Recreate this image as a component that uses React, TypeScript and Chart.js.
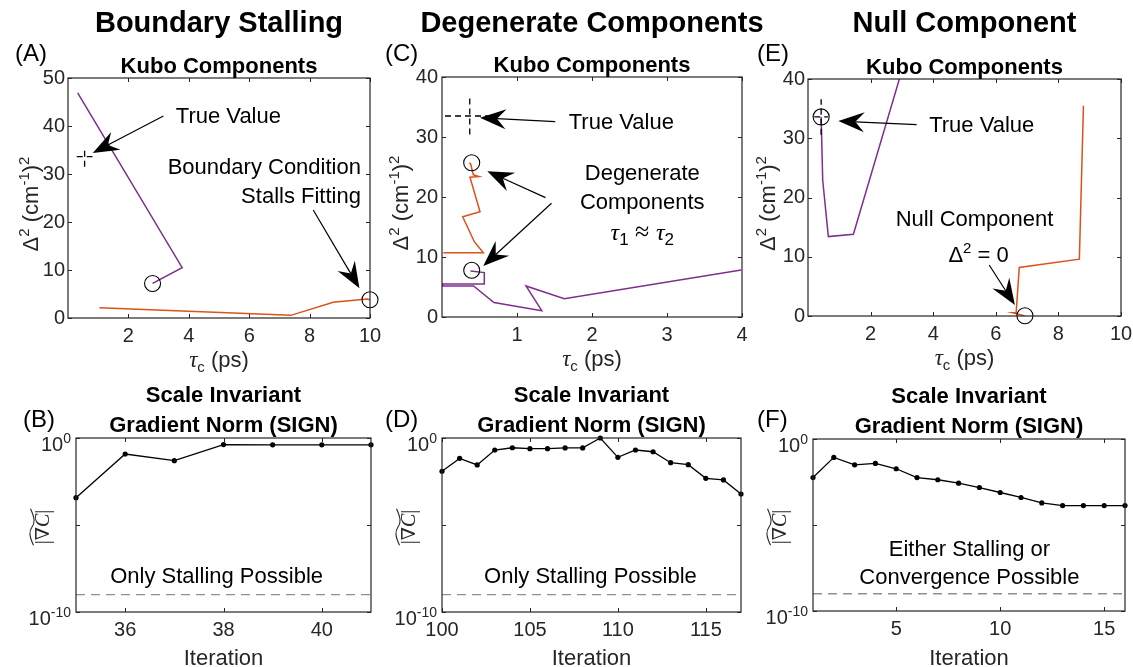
import React, { useEffect, useRef } from 'react';
import { Chart, registerables } from 'chart.js';

Chart.register(...registerables);

const SANS = '"Liberation Sans", Arial, Helvetica, sans-serif';
const SERIF = '"Liberation Serif", "DejaVu Serif", "Times New Roman", serif';
const AXIS = '#262626';
const PURPLE = '#7E2F8E';
const ORANGE = '#D95319';
const THRESH = '#8f8f8f';

// ---------------- Panel A : Boundary Stalling (Kubo components) ----------------
const aPurpleTau = [0.32, 3.78, 2.8];
const aPurpleD2 = [46.9, 10.5, 7.2];
const aOrangeTau = [1.04, 7.38, 8.78, 9.9, 10.0];
const aOrangeD2 = [2.15, 0.55, 3.27, 3.95, 3.8];
const aEndTau = [2.8, 10.0];
const aEndD2 = [7.2, 3.8];
const aTrueTau = [0.55];
const aTrueD2 = [33.6];
const aTrueTauSpan = [0.29, 0.81];
const aTrueD2Span = [31.5, 35.7];
const aXTicks = [2, 4, 6, 8, 10];
const aYTicks = [0, 10, 20, 30, 40, 50];

// ---------------- Panel C : Degenerate Components ----------------
const cPurpleTau = [3.99, 1.63, 1.12, 1.33, 0.693, 0.42, 0.01, 0.01, 0.564, 0.564, 0.38];
const cPurpleD2 = [7.83, 3.05, 5.17, 1.05, 2.4, 5.17, 5.17, 5.5, 5.5, 7.4, 7.65];
const cOrangeTau = [0.018, 0.551, 0.431, 0.276, 0.507, 0.373, 0.493, 0.418, 0.382, 0.364];
const cOrangeD2 = [10.7, 10.7, 12.55, 16.7, 17.55, 23.3, 23.4, 23.7, 25.5, 25.7];
const cEndTau = [0.396, 0.396];
const cEndD2 = [25.7, 7.8];
const cTrueTau = [0.37];
const cTrueD2 = [33.5];
const cTrueTauSpan = [0.04, 0.7];
const cTrueD2Span = [30.4, 36.6];
const cXTicks = [1, 2, 3, 4];
const cYTicks = [0, 10, 20, 30, 40];

// ---------------- Panel E : Null Component ----------------
const ePurpleTau = [3.2, 1.45, 0.65, 0.47, 0.42];
const ePurpleD2 = [45, 13.8, 13.4, 22.9, 33.6];
const eOrangeTau = [8.8, 8.67, 6.75, 6.65, 6.54, 6.93];
const eOrangeD2 = [35.5, 9.6, 8.2, 0.55, 0.55, 0.02];
const eEndTau = [0.42, 6.93];
const eEndD2 = [33.6, 0.05];
const eTrueTau = [0.42];
const eTrueD2 = [33.6];
const eTrueTauSpan = [0.2, 0.64];
const eTrueD2Span = [30.6, 36.6];
const eXTicks = [2, 4, 6, 8, 10];
const eYTicks = [0, 10, 20, 30, 40];

// ---------------- Panels B, D, F : SIGN ----------------
const bIter = [35, 36, 37, 38, 39, 40, 41];
const bSign = [3.7e-4, 0.12, 0.05, 0.417, 0.407, 0.407, 0.407];
const bXTicks = [36, 38, 40];

const dIter = [100, 101, 102, 103, 104, 105, 106, 107, 108, 109, 110, 111, 112, 113, 114, 115, 116, 117];
const dSign = [0.0123, 0.0676, 0.0282, 0.204, 0.275, 0.245, 0.245, 0.269, 0.269, 1.0, 0.0776, 0.204, 0.162, 0.038, 0.0295, 0.00479, 0.00389, 0.000603];
const dXTicks = [100, 105, 110, 115];

const fIter = [1, 2, 3, 4, 5, 6, 7, 8, 9, 10, 11, 12, 13, 14, 15, 16];
const fSign = [0.00575, 0.0851, 0.0316, 0.038, 0.0186, 0.00575, 0.00427, 0.00269, 0.00151, 0.000776, 0.000398, 0.000191, 0.000135, 0.000135, 0.000135, 0.000135];
const fXTicks = [5, 10, 15];

const signYTicks = [1e-10, 1e-5, 1];
const signThreshold = [1e-9];

// ---------------- helpers ----------------
const font = (size: number, weight = 'normal', family = SANS, style = 'normal') =>
  `${style} ${weight} ${size}px ${family}`;

type Run = { t: string; f: string; dy?: number };

function runsWidth(ctx: CanvasRenderingContext2D, runs: Run[]) {
  let w = 0;
  for (const r of runs) {
    ctx.font = r.f;
    w += ctx.measureText(r.t).width;
  }
  return w;
}

function drawRuns(ctx: CanvasRenderingContext2D, runs: Run[], x: number, y: number, align: string) {
  const w = runsWidth(ctx, runs);
  let cx = align === 'center' ? x - w / 2 : align === 'right' ? x - w : x;
  ctx.textAlign = 'left';
  ctx.textBaseline = 'alphabetic';
  for (const r of runs) {
    ctx.font = r.f;
    ctx.fillText(r.t, cx, y + (r.dy || 0));
    cx += ctx.measureText(r.t).width;
  }
  return w;
}

function arrow(ctx: CanvasRenderingContext2D, x1: number, y1: number, x2: number, y2: number) {
  const ang = Math.atan2(y2 - y1, x2 - x1);
  const ux = Math.cos(ang), uy = Math.sin(ang);
  const vx = -uy, vy = ux;
  const len = 26, hw = 10, notch = 17;
  ctx.save();
  ctx.strokeStyle = '#000';
  ctx.fillStyle = '#000';
  ctx.lineWidth = 1.2;
  ctx.beginPath();
  ctx.moveTo(x1, y1);
  ctx.lineTo(x2 - ux * notch, y2 - uy * notch);
  ctx.stroke();
  ctx.beginPath();
  ctx.moveTo(x2, y2);
  ctx.lineTo(x2 - ux * len + vx * hw, y2 - uy * len + vy * hw);
  ctx.lineTo(x2 - ux * notch, y2 - uy * notch);
  ctx.lineTo(x2 - ux * len - vx * hw, y2 - uy * len - vy * hw);
  ctx.closePath();
  ctx.fill();
  ctx.restore();
}

const zip = (xs: number[], ys: number[]) => xs.map((x, i) => ({ x, y: ys[i] }));

const lineDs = (xs: number[], ys: number[], color: string) => ({
  data: zip(xs, ys),
  showLine: true,
  borderColor: color,
  backgroundColor: color,
  borderWidth: 1.5,
  pointRadius: 0,
  tension: 0,
});

const circleDs = (xs: number[], ys: number[]) => ({
  data: zip(xs, ys),
  showLine: false,
  pointStyle: 'circle',
  pointRadius: 8,
  pointBorderWidth: 1.1,
  pointBorderColor: '#000',
  pointBackgroundColor: 'rgba(0,0,0,0)',
  borderColor: '#000',
  backgroundColor: 'rgba(0,0,0,0)',
  clip: false,
});

const crossDs = (tauSpan: number[], d2: number[], tau: number[], d2Span: number[]) => [
  {
    data: zip(tauSpan, [d2[0], d2[0]]),
    showLine: true,
    borderColor: '#000',
    borderWidth: 1.3,
    borderDash: [6, 4],
    pointRadius: 0,
  },
  {
    data: zip([tau[0], tau[0]], d2Span),
    showLine: true,
    borderColor: '#000',
    borderWidth: 1.3,
    borderDash: [6, 4],
    pointRadius: 0,
  },
];

const signDs = (xs: number[], ys: number[]) => ({
  data: zip(xs, ys),
  showLine: true,
  borderColor: '#000',
  backgroundColor: '#000',
  borderWidth: 1.3,
  pointRadius: 2.6,
  pointBorderWidth: 0,
  pointBackgroundColor: '#000',
  tension: 0,
  clip: false,
});

const threshDs = (xMin: number, xMax: number) => ({
  data: zip([xMin, xMax], [signThreshold[0], signThreshold[0]]),
  showLine: true,
  borderColor: THRESH,
  borderWidth: 1.4,
  borderDash: [9, 6],
  pointRadius: 0,
});

type Helper = {
  ctx: CanvasRenderingContext2D;
  a: { left: number; top: number; right: number; bottom: number };
  X: (v: number) => number;
  Y: (v: number) => number;
  px: (v: number) => number;
  py: (v: number) => number;
};

function drawTopCommon(h: Helper, o: { letter: string; letterX: number; col: string; yTitleX: number }) {
  const { ctx, a, px, py } = h;
  const cx = (a.left + a.right) / 2;
  ctx.fillStyle = '#000';
  ctx.textBaseline = 'alphabetic';
  ctx.textAlign = 'center';
  ctx.font = font(29, 'bold');
  ctx.fillText(o.col, cx, py(32));
  ctx.textAlign = 'left';
  ctx.font = font(24);
  ctx.fillText(o.letter, px(o.letterX), py(61));
  ctx.textAlign = 'center';
  ctx.font = font(22, 'bold');
  ctx.fillText('Kubo Components', cx, a.top - 5);

  ctx.fillStyle = AXIS;
  ctx.save();
  ctx.translate(px(o.yTitleX), (a.top + a.bottom) / 2 + 6);
  ctx.rotate(-Math.PI / 2);
  drawRuns(
    ctx,
    [
      { t: 'Δ', f: font(22) },
      { t: '2', f: font(15), dy: -9 },
      { t: ' (cm', f: font(22) },
      { t: '-1', f: font(15), dy: -9 },
      { t: ')', f: font(22) },
      { t: '2', f: font(15), dy: -9 },
    ],
    0,
    0,
    'center'
  );
  ctx.restore();

  drawRuns(
    ctx,
    [
      { t: 'τ', f: font(23, 'normal', SERIF, 'italic') },
      { t: 'c', f: font(15), dy: 5 },
      { t: ' (ps)', f: font(22) },
    ],
    cx,
    a.bottom + 49,
    'center'
  );
}

function drawBottomCommon(h: Helper, o: { letter: string; letterX: number }) {
  const { ctx, a, px, py, Y } = h;
  ctx.fillStyle = '#000';
  ctx.textBaseline = 'alphabetic';
  ctx.textAlign = 'left';
  ctx.font = font(24);
  ctx.fillText(o.letter, px(o.letterX), py(427));
  ctx.textAlign = 'center';
  ctx.font = font(22, 'bold');
  const cx = (a.left + a.right) / 2;
  ctx.fillText('Scale Invariant', cx, a.top - 36);
  ctx.fillText('Gradient Norm (SIGN)', cx, a.top - 6);

  // x title
  ctx.fillStyle = AXIS;
  ctx.font = font(22);
  ctx.fillText('Iteration', cx, py(665));

  // y tick labels with superscripts
  drawRuns(ctx, [{ t: '10', f: font(20) }, { t: '0', f: font(14), dy: -7.5 }], a.left - 5, Y(1) + 12.5, 'right');
  drawRuns(ctx, [{ t: '10', f: font(20) }, { t: '-10', f: font(14), dy: -7.5 }], a.left - 5, Y(1e-10) + 12.5, 'right');

  // y title: widetilde |∇C|
  ctx.save();
  ctx.translate(a.left - 27, (a.top + a.bottom) / 2 + 2);
  ctx.rotate(-Math.PI / 2);
  const w = drawRuns(
    ctx,
    [
      { t: '|', f: font(20, 'normal', SERIF) },
      { t: '∇', f: font(19, 'normal', SERIF) },
      { t: 'C', f: font(20, 'normal', SERIF, 'italic') },
      { t: '|', f: font(20, 'normal', SERIF) },
    ],
    0,
    0,
    'center'
  );
  const ty = -17;
  ctx.strokeStyle = AXIS;
  ctx.lineWidth = 1.1;
  ctx.beginPath();
  ctx.moveTo(-w / 2 - 1, ty + 1.5);
  ctx.bezierCurveTo(-w / 4, ty - 3, -w / 8, ty - 3, 0, ty);
  ctx.bezierCurveTo(w / 8, ty + 3, w / 4, ty + 3, w / 2 + 1, ty - 1.5);
  ctx.stroke();
  ctx.restore();
}

function annot(h: Helper, text: string, x: number, y: number, align: CanvasTextAlign) {
  const { ctx } = h;
  ctx.fillStyle = '#000';
  ctx.font = font(22);
  ctx.textAlign = align;
  ctx.textBaseline = 'middle';
  ctx.fillText(text, h.X(x), h.Y(y));
}

type PanelCfg = {
  key: string;
  box: number[];
  plot: number[];
  xMin: number;
  xMax: number;
  xTicks: number[];
  yLog: boolean;
  yMin: number;
  yMax: number;
  yTicks: number[];
  xPad: number;
  yPad: number;
  datasets: any[];
  draw: (h: Helper) => void;
};

const panels: PanelCfg[] = [
  {
    key: 'A',
    box: [0, 0, 388, 372],
    plot: [68, 78, 370, 318],
    xMin: 0,
    xMax: 10,
    xTicks: aXTicks,
    yLog: false,
    yMin: 0,
    yMax: 50,
    yTicks: aYTicks,
    xPad: 6,
    yPad: 3,
    datasets: [
      circleDs(aEndTau, aEndD2),
      ...crossDs(aTrueTauSpan, aTrueD2, aTrueTau, aTrueD2Span),
      lineDs(aPurpleTau, aPurpleD2, PURPLE),
      lineDs(aOrangeTau, aOrangeD2, ORANGE),
    ],
    draw: (h) => {
      drawTopCommon(h, { letter: '(A)', letterX: 15, col: 'Boundary Stalling', yTitleX: 38 });
      annot(h, 'True Value', 3.57, 41.8, 'left');
      arrow(h.ctx, h.X(3.16), h.Y(42.1), h.X(0.82), h.Y(34.4));
      annot(h, 'Boundary Condition', 9.7, 31.2, 'right');
      annot(h, 'Stalls Fitting', 9.7, 25.3, 'right');
      arrow(h.ctx, h.X(8.12), h.Y(22.5), h.X(9.65), h.Y(6.2));
    },
  },
  {
    key: 'C',
    box: [372, 0, 398, 372],
    plot: [442, 77, 742, 317],
    xMin: 0,
    xMax: 4,
    xTicks: cXTicks,
    yLog: false,
    yMin: 0,
    yMax: 40,
    yTicks: cYTicks,
    xPad: 6,
    yPad: 4,
    datasets: [
      circleDs(cEndTau, cEndD2),
      ...crossDs(cTrueTauSpan, cTrueD2, cTrueTau, cTrueD2Span),
      lineDs(cPurpleTau, cPurpleD2, PURPLE),
      lineDs(cOrangeTau, cOrangeD2, ORANGE),
    ],
    draw: (h) => {
      drawTopCommon(h, { letter: '(C)', letterX: 385, col: 'Degenerate Components', yTitleX: 408 });
      annot(h, 'True Value', 1.69, 32.3, 'left');
      arrow(h.ctx, h.X(1.51), h.Y(32.55), h.X(0.507), h.Y(33.2));
      annot(h, 'Degenerate', 2.67, 23.8, 'center');
      annot(h, 'Components', 2.67, 19.05, 'center');
      h.ctx.fillStyle = '#000';
      drawRuns(
        h.ctx,
        [
          { t: 'τ', f: font(24, 'normal', SERIF, 'italic') },
          { t: '1', f: font(17), dy: 5 },
          { t: ' ≈ ', f: font(26, 'normal', SERIF) },
          { t: 'τ', f: font(24, 'normal', SERIF, 'italic') },
          { t: '2', f: font(17), dy: 5 },
        ],
        h.X(2.67),
        h.Y(12.8),
        'center'
      );
      arrow(h.ctx, h.X(1.38), h.Y(19.9), h.X(0.604), h.Y(24.3));
      arrow(h.ctx, h.X(1.46), h.Y(18.95), h.X(0.55), h.Y(8.5));
    },
  },
  {
    key: 'E',
    box: [748, 0, 385, 372],
    plot: [808, 79, 1121, 316],
    xMin: 0,
    xMax: 10,
    xTicks: eXTicks,
    yLog: false,
    yMin: 0,
    yMax: 40,
    yTicks: eYTicks,
    xPad: 6,
    yPad: 3,
    datasets: [
      circleDs(eEndTau, eEndD2),
      ...crossDs(eTrueTauSpan, eTrueD2, eTrueTau, eTrueD2Span),
      lineDs(ePurpleTau, ePurpleD2, PURPLE),
      lineDs(eOrangeTau, eOrangeD2, ORANGE),
    ],
    draw: (h) => {
      drawTopCommon(h, { letter: '(E)', letterX: 757, col: 'Null Component', yTitleX: 775 });
      annot(h, 'True Value', 3.87, 32.0, 'left');
      arrow(h.ctx, h.X(3.47), h.Y(32.3), h.X(0.97), h.Y(32.9));
      annot(h, 'Null Component', 5.32, 16.2, 'center');
      h.ctx.fillStyle = '#000';
      drawRuns(
        h.ctx,
        [
          { t: 'Δ', f: font(22) },
          { t: '2', f: font(15), dy: -9 },
          { t: ' = 0', f: font(22) },
        ],
        h.X(5.45),
        h.Y(9.1),
        'center'
      );
      arrow(h.ctx, h.X(5.79), h.Y(8.6), h.X(6.61), h.Y(1.85));
    },
  },
  {
    key: 'B',
    box: [0, 372, 388, 295],
    plot: [76, 438, 371, 612],
    xMin: 35,
    xMax: 41,
    xTicks: bXTicks,
    yLog: true,
    yMin: 1e-10,
    yMax: 1,
    yTicks: signYTicks,
    xPad: 6,
    yPad: 5,
    datasets: [signDs(bIter, bSign), threshDs(35, 41)],
    draw: (h) => {
      drawBottomCommon(h, { letter: '(B)', letterX: 23 });
      annot(h, 'Only Stalling Possible', 37.86, 1.1e-8, 'center');
    },
  },
  {
    key: 'D',
    box: [372, 372, 386, 295],
    plot: [442, 438, 741, 612],
    xMin: 100,
    xMax: 117,
    xTicks: dXTicks,
    yLog: true,
    yMin: 1e-10,
    yMax: 1,
    yTicks: signYTicks,
    xPad: 6,
    yPad: 5,
    datasets: [signDs(dIter, dSign), threshDs(100, 117)],
    draw: (h) => {
      drawBottomCommon(h, { letter: '(D)', letterX: 385 });
      annot(h, 'Only Stalling Possible', 108.44, 1.1e-8, 'center');
    },
  },
  {
    key: 'F',
    box: [748, 372, 385, 295],
    plot: [813, 439, 1125, 611],
    xMin: 1,
    xMax: 16,
    xTicks: fXTicks,
    yLog: true,
    yMin: 1e-10,
    yMax: 1,
    yTicks: signYTicks,
    xPad: 6,
    yPad: 5,
    datasets: [signDs(fIter, fSign), threshDs(1, 16)],
    draw: (h) => {
      drawBottomCommon(h, { letter: '(F)', letterX: 757 });
      annot(h, 'Either Stalling or', 8.52, 3.5e-7, 'center');
      annot(h, 'Convergence Possible', 8.52, 8.3e-9, 'center');
    },
  },
];

function Panel({ cfg }: { cfg: PanelCfg }) {
  const ref = useRef<HTMLCanvasElement | null>(null);
  useEffect(() => {
    const canvas = ref.current;
    if (!canvas) return;
    const [ox, oy, w, hgt] = cfg.box;
    const [L, T, R, B] = cfg.plot;
    const padL = L - ox;
    const padT = T - oy;
    const padR = ox + w - R;
    const padB = oy + hgt - B;

    const deco = {
      id: 'deco' + cfg.key,
      afterDraw(chart: any) {
        const ctx = chart.ctx as CanvasRenderingContext2D;
        const xs = chart.scales.x;
        const ys = chart.scales.y;
        const a = chart.chartArea;
        ctx.save();
        ctx.strokeStyle = AXIS;
        ctx.lineWidth = 1;
        ctx.beginPath();
        for (const v of cfg.xTicks) {
          const p = Math.round(xs.getPixelForValue(v)) + 0.5;
          ctx.moveTo(p, a.bottom);
          ctx.lineTo(p, a.bottom - 4);
          ctx.moveTo(p, a.top);
          ctx.lineTo(p, a.top + 4);
        }
        for (const v of cfg.yTicks) {
          const p = Math.round(ys.getPixelForValue(v)) + 0.5;
          ctx.moveTo(a.left, p);
          ctx.lineTo(a.left + 4, p);
          ctx.moveTo(a.right, p);
          ctx.lineTo(a.right - 4, p);
        }
        ctx.stroke();
        ctx.lineWidth = 1.2;
        ctx.strokeRect(a.left, a.top, a.right - a.left, a.bottom - a.top);
        const h: Helper = {
          ctx,
          a,
          X: (v) => xs.getPixelForValue(v),
          Y: (v) => ys.getPixelForValue(v),
          px: (v) => v - ox,
          py: (v) => v - oy,
        };
        cfg.draw(h);
        ctx.restore();
      },
    };

    const chart = new Chart(canvas, {
      type: 'scatter',
      data: { datasets: cfg.datasets },
      options: {
        responsive: false,
        animation: false,
        devicePixelRatio: 1,
        events: [],
        layout: { padding: { left: 0, top: padT, right: padR, bottom: 0 } },
        plugins: { legend: { display: false }, tooltip: { enabled: false } },
        scales: {
          x: {
            type: 'linear',
            min: cfg.xMin,
            max: cfg.xMax,
            grid: { display: false, drawTicks: false },
            border: { display: false },
            ticks: {
              color: AXIS,
              font: { family: SANS, size: 20 },
              padding: cfg.xPad,
              maxRotation: 0,
              autoSkip: false,
              callback: (v: any) => String(v),
            },
            afterBuildTicks: (s: any) => {
              s.ticks = cfg.xTicks.map((v) => ({ value: v }));
            },
            afterFit: (s: any) => {
              s.height = padB;
              s.paddingLeft = 0;
              s.paddingRight = 0;
            },
          },
          y: {
            type: cfg.yLog ? 'logarithmic' : 'linear',
            min: cfg.yMin,
            max: cfg.yMax,
            grid: { display: false, drawTicks: false },
            border: { display: false },
            ticks: {
              color: AXIS,
              font: { family: SANS, size: 20 },
              padding: cfg.yPad,
              autoSkip: false,
              callback: (v: any) => (cfg.yLog ? '' : String(v)),
            },
            afterBuildTicks: (s: any) => {
              s.ticks = cfg.yTicks.map((v) => ({ value: v }));
            },
            afterFit: (s: any) => {
              s.width = padL;
              s.paddingTop = 0;
              s.paddingBottom = 0;
            },
          },
        },
      } as any,
      plugins: [deco],
    });
    return () => chart.destroy();
  }, [cfg]);

  const [ox, oy, w, h] = cfg.box;
  return (
    <canvas
      ref={ref}
      width={w}
      height={h}
      style={{ position: 'absolute', left: ox, top: oy, width: w, height: h }}
    />
  );
}

export default function App() {
  return (
    <div style={{ position: 'absolute', left: 0, top: 0, width: 1133, height: 667, background: '#fff', overflow: 'hidden' }}>
      {panels.map((p) => (
        <Panel key={p.key} cfg={p} />
      ))}
    </div>
  );
}
